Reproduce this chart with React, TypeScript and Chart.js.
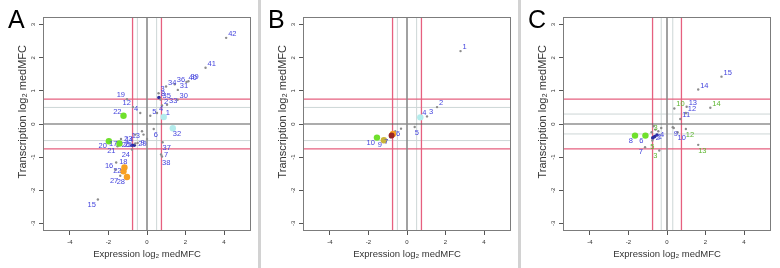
import React, { useEffect, useRef } from 'react';
import { Chart, registerables } from 'chart.js';

Chart.register(...registerables);

// ---- axes ----
const X_MIN = -5.4;
const X_MAX = 5.4;
const Y_MIN = -3.23;
const Y_MAX = 3.23;
const xTickValues = [-4, -2, 0, 2, 4];
const yTickValues = [-3, -2, -1, 0, 1, 2, 3];
const xAxisTitle = 'Expression log₂ medMFC';
const yAxisTitle = 'Transcription log₂ medMFC';
const panelLetters = ['A', 'B', 'C'];
const pinkCutoffs = [-0.75, 0.75];
const greyCutoffsAB = [-0.5, 0.5];
const greyCutoffsC = [-0.3, 0.3];

// ---- panel A ----
const aLabels = ['42', '41', '40', '39', '36', '34', '31', '30', '3', '8', '35', '2', '33', '4', '5', '1', '6', '32', '37', '7', '38', '19', '12', '4', '22', '13', '14', '23', '17', '20', '21', '26', '25', '29', '9', '24', '18', '16', '', '22', '27', '28', '15', '', ''];
const aX = [4.11, 3.04, 2.05, 2.15, 1.44, 0.99, 1.6, 1.59, 0.6, 0.62, 0.7, 0.78, 1.04, 0.52, 0.17, 0.87, 0.35, 1.34, 0.81, 0.73, 0.78, -1.04, -0.73, -0.35, -1.22, -0.26, -0.61, -1.35, -1.43, -1.98, -1.53, -0.78, -0.66, -0.61, -0.49, -0.78, -1.6, -1.65, -1.17, -1.22, -1.39, -1.04, -2.55, -0.18, 0.0];
const aY = [2.6, 1.7, 1.27, 1.29, 1.2, 1.13, 1.03, 0.73, 0.93, 0.8, 0.74, 0.56, 0.58, 0.33, 0.25, 0.21, -0.15, -0.13, -0.55, -0.92, -0.98, 0.75, 0.51, 0.33, 0.25, -0.22, -0.32, -0.45, -0.59, -0.52, -0.67, -0.64, -0.64, -0.59, -0.57, -0.77, -1.16, -1.38, -1.31, -1.43, -1.56, -1.6, -2.28, -0.32, -0.45];
const aPos = ['ne', 'ne', 'ne', 'ne', 'ne', 'ne', 'ne', 'ne', 'ne', 'ne', 'ne', 'ne', 'ne', 'ne', 'ne', 'ne', 'se', 'se', 'se', 'e', 'se', 'nw', 'nw', 'nw', 'nw', 'sw', 'sw', 'e', 'w', 'sw', 'sw', 'w', 'w', 'e', 'e', 'sw', 'e', 'nw', 'e', 'w', 'sw', 'sw', 'sw', 'e', 'e'];
const aKind = ['gray', 'gray', 'gray', 'gray', 'gray', 'gray', 'gray', 'gray', 'gray', 'navy', 'gray', 'gray', 'gray', 'gray', 'gray', 'cyan', 'gray', 'cyan', 'gray', 'gray', 'gray', 'gray', 'gray', 'gray', 'green', 'gray', 'gray', 'gray', 'green', 'green', 'gray', 'navy', 'navy', 'gray', 'gray', 'gray', 'gray', 'gray', 'orange', 'orange', 'gray', 'orange', 'gray', 'gray', 'gray'];
const aTone = aLabels.map(() => 'b');

// ---- panel B ----
const bLabels = ['1', '2', '3', '4', '5', '', '', '6', '', '7', '9', '10'];
const bX = [2.78, 1.56, 1.04, 0.69, 0.4, -0.31, -0.61, -0.73, -0.8, -0.86, -1.2, -1.56];
const bY = [2.2, 0.51, 0.23, 0.2, -0.09, -0.14, -0.22, -0.3, -0.35, -0.4, -0.49, -0.41];
const bPos = ['ne', 'ne', 'ne', 'ne', 'se', 'e', 'e', 'e', 'e', 'sw', 'sw', 'sw'];
const bKind = ['gray', 'gray', 'gray', 'cyan', 'gray', 'gray', 'gray', 'orange', 'darkred', 'gray', 'olive', 'green'];
const bTone = bLabels.map(() => 'b');

// ---- panel C ----
const cLabels = ['15', '14', '14', '13', '10', '12', '11', '12', '9', '10', '13', '3', '7', '8', '6', '3', '2', '1', '4', '5', '', '', '', '', ''];
const cX = [2.83, 1.62, 2.25, 1.02, 0.38, 0.98, 0.69, 0.98, 0.35, 0.55, 1.62, -0.4, -1.14, -1.66, -1.12, -0.8, -0.74, -0.64, -0.52, -0.76, -0.6, -0.3, -0.7, -0.45, 0.3];
const cY = [1.43, 1.04, 0.49, 0.52, 0.47, 0.33, 0.15, -0.15, -0.12, -0.25, -0.63, -0.8, -0.7, -0.35, -0.35, -0.25, -0.42, -0.38, -0.33, -0.5, -0.17, -0.12, -0.07, -0.22, -0.1];
const cPos = ['ne', 'ne', 'ne', 'ne', 'ne', 'ne', 'ne', 'se', 'se', 'se', 'se', 'sw', 'sw', 'sw', 'sw', 'ne', 'e', 'e', 'e', 's', 'e', 'e', 'e', 'e', 'e'];
const cKind = ['gray', 'gray', 'gray', 'gray', 'gray', 'gray', 'gray', 'gray', 'gray', 'gray', 'gray', 'gray', 'gray', 'green', 'green', 'gray', 'navy', 'navy', 'navy', 'gray', 'gray', 'gray', 'gray', 'gray', 'gray'];
const cTone = ['b', 'b', 'g', 'b', 'g', 'b', 'b', 'g', 'b', 'b', 'g', 'g', 'b', 'b', 'b', 'g', 'b', 'b', 'b', 'g', 'b', 'b', 'b', 'b', 'b'];

// ---- styles ----
const KIND_STYLE: Record<string, { color: string; r: number }> = {
  gray: { color: '#8c8c8c', r: 1.2 },
  navy: { color: '#2b2b9e', r: 1.8 },
  green: { color: '#6fe02c', r: 3.2 },
  orange: { color: '#f7a023', r: 3.2 },
  cyan: { color: '#b3ecec', r: 3.2 },
  olive: { color: '#c9b43a', r: 3.2 },
  darkred: { color: '#9a2424', r: 3.0 },
};
const TONE_COLOR: Record<string, string> = { b: '#4444dd', g: '#5cb52f' };
const OFF: Record<string, [number, number, CanvasTextAlign]> = {
  ne: [2, -4, 'left'],
  e: [3, 0, 'left'],
  se: [0, 6, 'left'],
  s: [0, 6, 'center'],
  sw: [-2, 5, 'right'],
  w: [-2, 0, 'right'],
  nw: [-2, -4, 'right'],
  n: [0, -6, 'center'],
};
const FONT = '"Liberation Sans", Arial, Helvetica, sans-serif';
const Y_TITLE_LEAD = '\u00a0'.repeat(8);

type PanelData = {
  letter: string;
  labels: string[];
  xs: number[];
  ys: number[];
  pos: string[];
  kinds: string[];
  tones: string[];
  grey: number[];
};

const panels: PanelData[] = [
  { letter: panelLetters[0], labels: aLabels, xs: aX, ys: aY, pos: aPos, kinds: aKind, tones: aTone, grey: greyCutoffsAB },
  { letter: panelLetters[1], labels: bLabels, xs: bX, ys: bY, pos: bPos, kinds: bKind, tones: bTone, grey: greyCutoffsAB },
  { letter: panelLetters[2], labels: cLabels, xs: cX, ys: cY, pos: cPos, kinds: cKind, tones: cTone, grey: greyCutoffsC },
];

function lineDs(axis: 'x' | 'y', v: number, color: string, width: number, order: number) {
  return {
    type: 'scatter',
    data: axis === 'x' ? [{ x: v, y: Y_MIN }, { x: v, y: Y_MAX }] : [{ x: X_MIN, y: v }, { x: X_MAX, y: v }],
    showLine: true,
    borderColor: color,
    borderWidth: width,
    pointRadius: 0,
    fill: false,
    order,
    isRefLine: true,
  };
}

function buildConfig(p: PanelData): any {
  const pts = p.xs.map((x, i) => ({ x, y: p.ys[i], label: p.labels[i], pos: p.pos[i], tone: p.tones[i], kind: p.kinds[i] }));
  const small = pts.filter((d) => KIND_STYLE[d.kind].r < 2.5);
  const big = pts.filter((d) => KIND_STYLE[d.kind].r >= 2.5);
  const ptDs = (arr: any[], order: number) => ({
    type: 'scatter',
    data: arr,
    pointRadius: arr.map((d) => KIND_STYLE[d.kind].r),
    pointBackgroundColor: arr.map((d) => KIND_STYLE[d.kind].color),
    pointBorderColor: arr.map((d) => KIND_STYLE[d.kind].color),
    pointBorderWidth: 0,
    showLine: false,
    order,
    isPoints: true,
  });
  const datasets: any[] = [];
  p.grey.forEach((v) => {
    datasets.push(lineDs('x', v, '#cdd6d6', 1, 14));
    datasets.push(lineDs('y', v, '#cdd6d6', 1, 14));
  });
  pinkCutoffs.forEach((v) => {
    datasets.push(lineDs('x', v, '#e6607f', 1.3, 12));
    datasets.push(lineDs('y', v, '#e6607f', 1.3, 12));
  });
  datasets.push(lineDs('x', 0, '#8a8a8a', 1.6, 11));
  datasets.push(lineDs('y', 0, '#5a5a5a', 1.2, 11));
  datasets.push(ptDs(small, 2));
  datasets.push(ptDs(big, 1));

  const decor = {
    id: 'decor',
    afterDatasetsDraw(chart: any) {
      const { ctx, chartArea } = chart;
      ctx.save();
      ctx.font = `7.5px ${FONT}`;
      ctx.textBaseline = 'middle';
      chart.data.datasets.forEach((ds: any, di: number) => {
        if (!ds.isPoints) return;
        const meta = chart.getDatasetMeta(di);
        ds.data.forEach((d: any, j: number) => {
          if (!d.label) return;
          const el = meta.data[j];
          const o = OFF[d.pos] || OFF.e;
          ctx.fillStyle = TONE_COLOR[d.tone] || TONE_COLOR.b;
          ctx.textAlign = o[2];
          ctx.fillText(d.label, el.x + o[0], el.y + o[1]);
        });
      });
      ctx.strokeStyle = '#7c7c7c';
      ctx.lineWidth = 1;
      ctx.strokeRect(
        Math.round(chartArea.left) + 0.5,
        Math.round(chartArea.top) + 0.5,
        Math.round(chartArea.right - chartArea.left) - 1,
        Math.round(chartArea.bottom - chartArea.top) - 1
      );
      ctx.fillStyle = '#000';
      ctx.font = `25px ${FONT}`;
      ctx.textAlign = 'left';
      ctx.textBaseline = 'alphabetic';
      ctx.fillText(p.letter, 8, 28);
      ctx.restore();
    },
  };

  return {
    type: 'scatter',
    data: { datasets },
    plugins: [decor],
    options: {
      animation: false,
      responsive: false,
      events: [],
      layout: { padding: { left: 0, right: 9, top: 17, bottom: 0 } },
      plugins: { legend: { display: false }, tooltip: { enabled: false }, title: { display: false } },
      scales: {
        x: {
          type: 'linear',
          min: X_MIN,
          max: X_MAX,
          afterBuildTicks: (s: any) => {
            s.ticks = xTickValues.map((v) => ({ value: v }));
          },
          afterFit: (s: any) => {
            s.height = 37;
          },
          grid: { drawOnChartArea: false, drawTicks: true, tickLength: 4, color: '#555', lineWidth: 1 },
          border: { display: false },
          ticks: { font: { size: 6, family: FONT }, color: '#333', padding: 4, maxRotation: 0, minRotation: 0, callback: (v: any) => String(v) },
          title: { display: true, text: xAxisTitle, font: { size: 9.5, family: FONT }, color: '#333', padding: { top: 0, bottom: 8 } },
        },
        y: {
          type: 'linear',
          min: Y_MIN,
          max: Y_MAX,
          afterBuildTicks: (s: any) => {
            s.ticks = yTickValues.map((v) => ({ value: v }));
          },
          afterFit: (s: any) => {
            s.width = 43;
          },
          grid: { drawOnChartArea: false, drawTicks: true, tickLength: 4, color: '#555', lineWidth: 1 },
          border: { display: false },
          ticks: { font: { size: 6, family: FONT }, color: '#333', padding: 3, minRotation: 90, maxRotation: 90, crossAlign: 'center', callback: (v: any) => String(v) },
          title: { display: true, text: Y_TITLE_LEAD + yAxisTitle, font: { size: 11, family: FONT }, color: '#333', padding: { top: 16, bottom: 0 } },
        },
      },
    },
  };
}

function Panel({ data }: { data: PanelData }) {
  const ref = useRef<HTMLCanvasElement>(null);
  useEffect(() => {
    if (!ref.current) return;
    const chart = new Chart(ref.current, buildConfig(data));
    return () => chart.destroy();
  }, [data]);
  return <canvas ref={ref} width={260} height={268} style={{ display: 'block', width: 260, height: 268 }} />;
}

export default function App() {
  useEffect(() => {
    document.body.style.margin = '0';
  }, []);
  return (
    <div style={{ position: 'absolute', left: 0, top: 0, width: 780, height: 268, background: '#fff', display: 'flex' }}>
      {panels.map((p) => (
        <Panel key={p.letter} data={p} />
      ))}
      <div style={{ position: 'absolute', left: 258, top: 0, width: 3, height: 268, background: '#d2d2d2' }} />
      <div style={{ position: 'absolute', left: 518, top: 0, width: 3, height: 268, background: '#d2d2d2' }} />
    </div>
  );
}
